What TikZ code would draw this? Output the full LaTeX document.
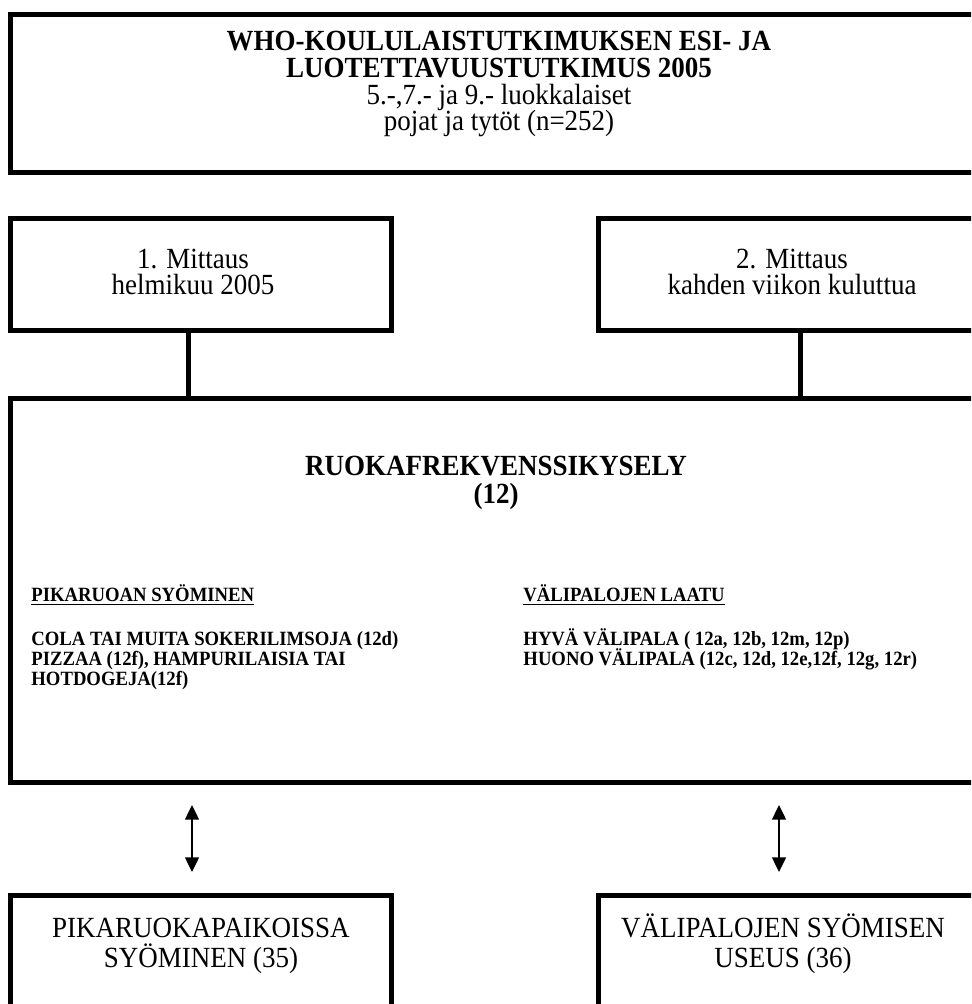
\documentclass[tikz,border=0pt]{standalone}
\usepackage{fontspec}
\setmainfont{Liberation Serif}[FakeStretch=0.923]
\usetikzlibrary{positioning,arrows.meta}

\begin{document}
\begin{tikzpicture}[
  x=0.44444pt, y=-0.44444pt,
  >={Triangle[length=6.5pt,width=6.2pt]},
  frame/.style={draw, line width=2.2pt, inner sep=0pt},
  txt/.style={inner sep=0pt, anchor=base, font=\fontsize{13}{15}\selectfont},
  bold/.style={txt, font=\fontsize{13}{15}\selectfont\bfseries},
  item/.style={inner sep=0pt, anchor=base west, font=\fontsize{9}{10}\selectfont\bfseries},
  link/.style={line width=1.8pt},
  both/.style={<->, line width=0.6pt}
]
  \useasboundingbox (0,0) rectangle (971,1004);
  \clip (0,0) rectangle (971,1004);

  % boxes
  \node[frame, minimum width=434.4pt, minimum height=70.2pt] (who) at (499.25,93.5) {};
  \node[frame, minimum width=169.3pt, minimum height=49.8pt] (m1) at (201,274.5) {};
  \node[frame, minimum width=173.1pt, minimum height=49.8pt] (m2) at (793.25,274.5) {};
  \node[frame, minimum width=434.4pt, minimum height=170.7pt] (kysely) at (499.25,590.5) {};
  \node[frame, minimum width=169.3pt, minimum height=64.2pt] (pika) at (201,967.75) {};
  \node[frame, minimum width=173.1pt, minimum height=64.2pt] (vali) at (793.25,967.75) {};

  % study
  \node[bold] (who1) at (499,51) {WHO-KOULULAISTUTKIMUKSEN ESI- JA};
  \node[bold] (who2) at (499,78) {LUOTETTAVUUSTUTKIMUS 2005};
  \node[txt] (who3) at (499,105) {5.-,7.- ja 9.- luokkalaiset};
  \node[txt] (who4) at (499,131) {pojat ja tytöt (n=252)};

  % measurements
  \node[txt] (m1a) at (193,269) {1. Mittaus};
  \node[txt] (m1b) at (193,295) {helmikuu 2005};
  \node[txt] (m2a) at (792,269) {2. Mittaus};
  \node[txt] (m2b) at (792,295) {kahden viikon kuluttua};

  % questionnaire
  \node[bold] (title) at (496,475) {RUOKAFREKVENSSIKYSELY};
  \node[bold] (num) at (496,503) {(12)};
  \node[item] (pikah) at (31,601) {\underline{PIKARUOAN SYÖMINEN}};
  \node[item] (cola) at (31,645) {COLA TAI MUITA SOKERILIMSOJA (12d)};
  \node[item] (pizza) at (31,665) {PIZZAA (12f), HAMPURILAISIA TAI};
  \node[item] (hotdog) at (31,685) {HOTDOGEJA(12f)};
  \node[item] (valih) at (523,601) {\underline{VÄLIPALOJEN LAATU}};
  \node[item] (hyva) at (523,645) {HYVÄ VÄLIPALA ( 12a, 12b, 12m, 12p)};
  \node[item] (huono) at (523,665) {HUONO VÄLIPALA (12c, 12d, 12e,12f, 12g, 12r)};

  % outcomes
  \node[txt] (pika1) at (201,937) {PIKARUOKAPAIKOISSA};
  \node[txt] (pika2) at (201,967) {SYÖMINEN (35)};
  \node[txt] (vali1) at (783,937) {VÄLIPALOJEN SYÖMISEN};
  \node[txt] (vali2) at (783,967) {USEUS (36)};

  % links
  \coordinate (c1) at (188.5,0);
  \coordinate (c2) at (800.5,0);
  \draw[link] (m1.south -| c1) -- (kysely.north -| c1);
  \draw[link] (m2.south -| c2) -- (kysely.north -| c2);

  \coordinate (a1) at (192,805);
  \coordinate (b1) at (192,872);
  \coordinate (a2) at (779,805);
  \coordinate (b2) at (779,872);
  \draw[both] (a1) -- (b1);
  \draw[both] (a2) -- (b2);
\end{tikzpicture}
\end{document}
